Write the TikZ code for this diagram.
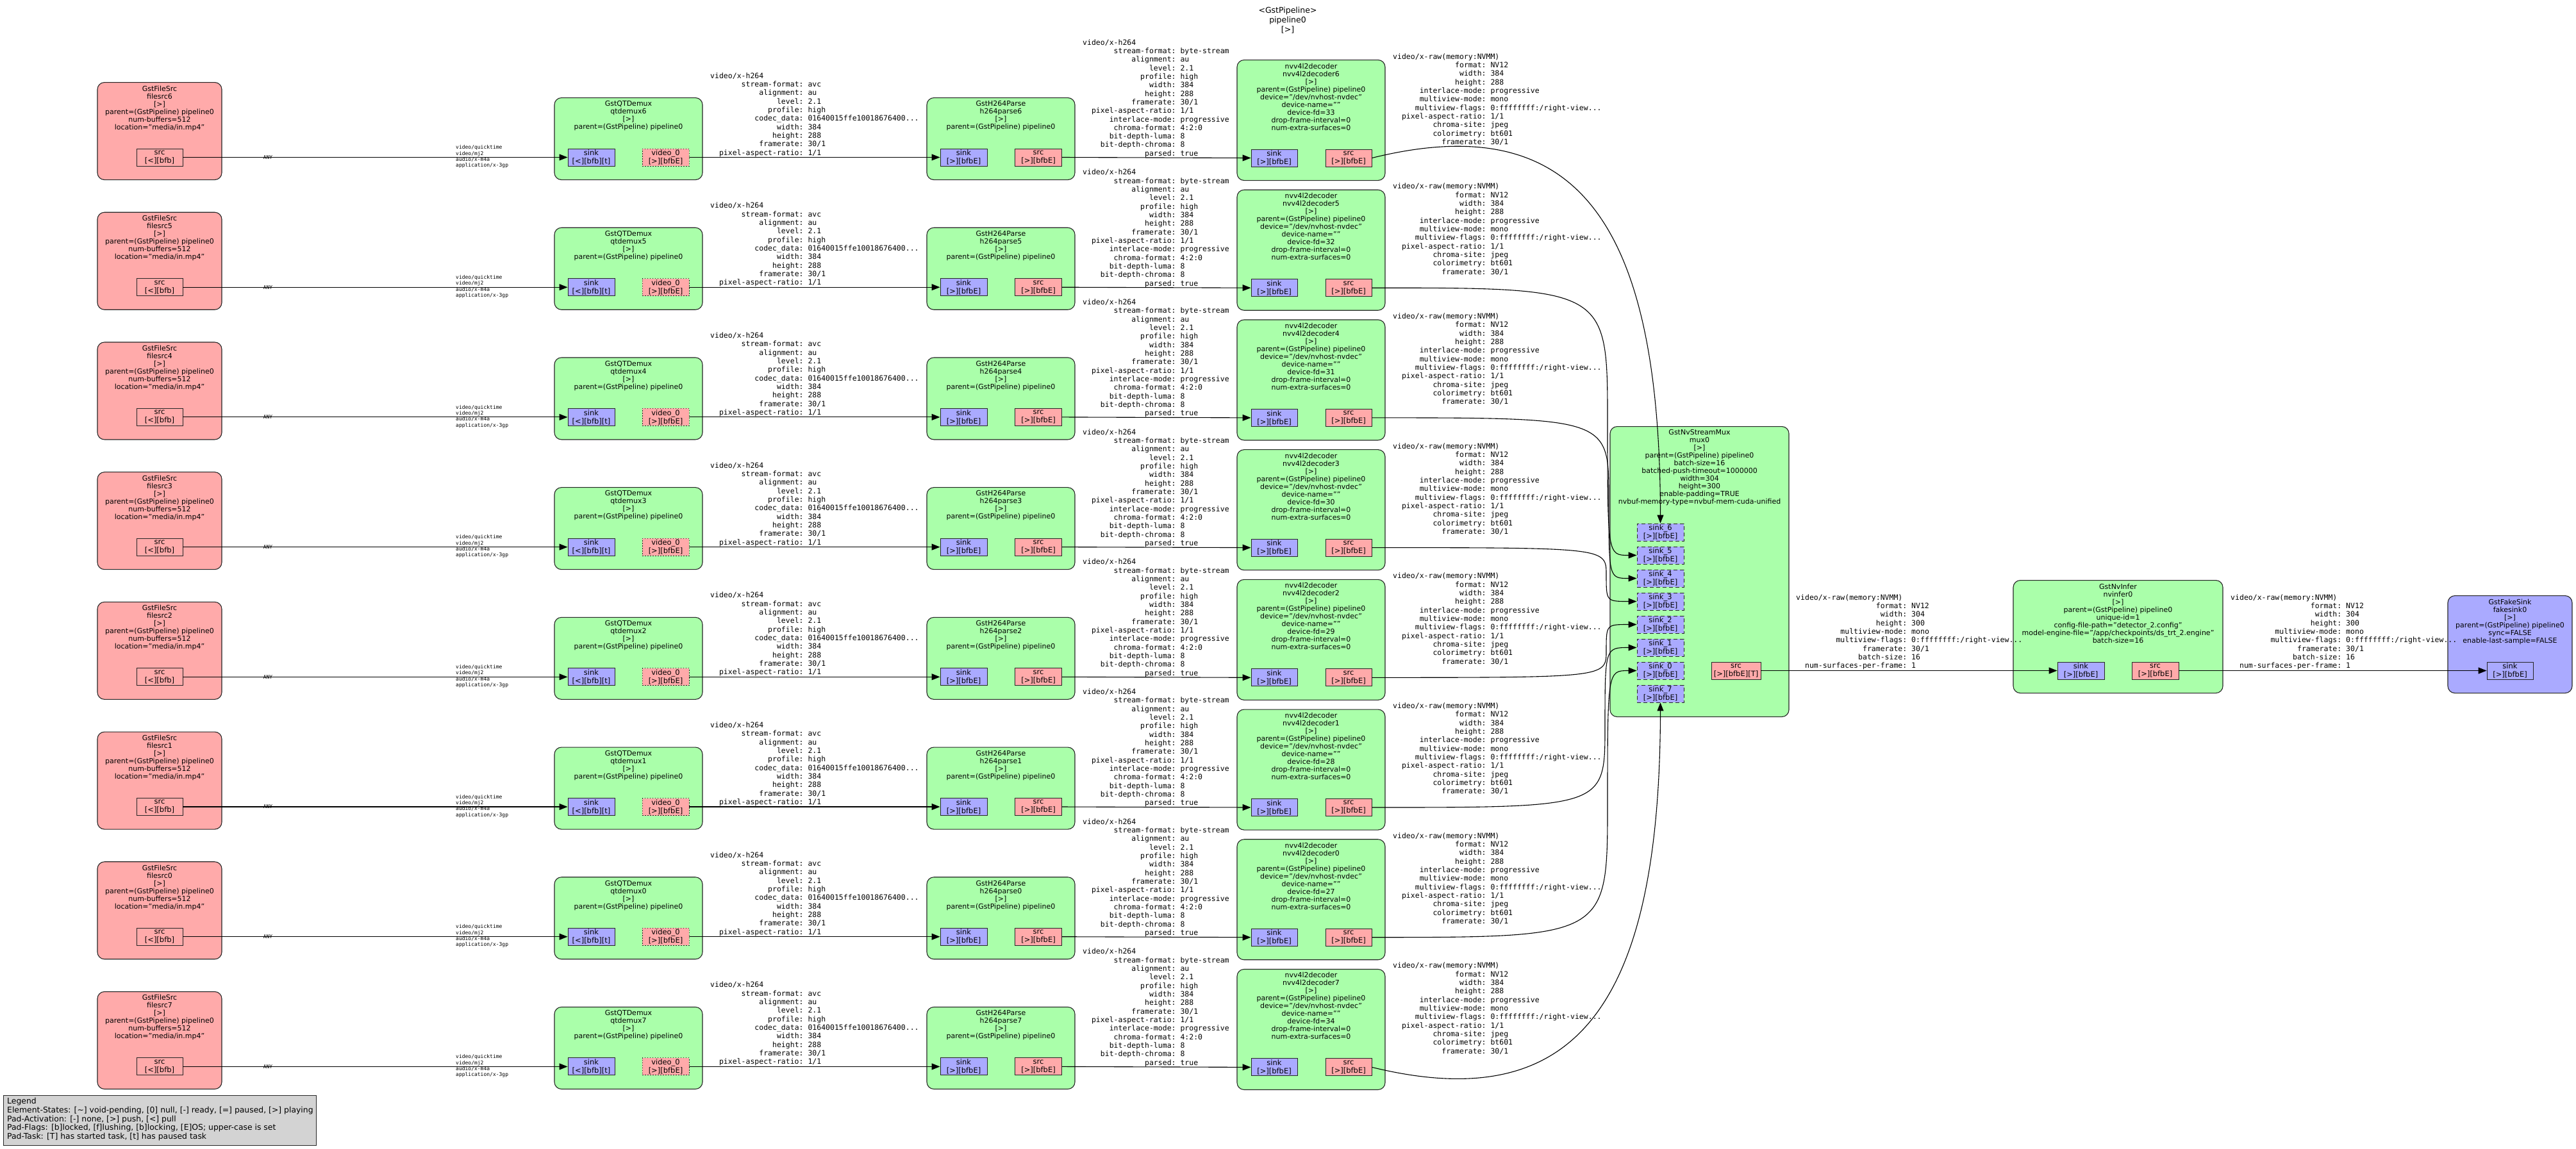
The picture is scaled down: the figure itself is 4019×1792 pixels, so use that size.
\documentclass[tikz,border=0pt]{standalone}
\usepackage{fontspec}
\setmainfont{DejaVu Sans}
\newfontfamily\capsmono{DejaVu Sans Mono}
\usetikzlibrary{arrows.meta}

\definecolor{elemgreen}{HTML}{AAFFAA}
\definecolor{srcred}{HTML}{FFAAAA}
\definecolor{sinkblue}{HTML}{AAAAFF}
\definecolor{legendgray}{HTML}{D3D3D3}

\newcommand\elemfont{\fontsize{11}{12}\selectfont}
\newcommand\padfont{\fontsize{11.5}{13}\selectfont}
\newcommand\capsfont{\capsmono\fontsize{11.5}{13.33}\selectfont}
\newcommand\tinycaps{\capsmono\fontsize{8}{9.3}\selectfont}

% caps table: media type on the first line, then right-aligned field names
\newcommand\capstable[2]{%
  \begin{tabular}{@{\hspace{1.204em}}r@{:\hspace{0.602em}}l@{}}
  \multicolumn{2}{@{}l@{}}{#1}\\
  #2
  \end{tabular}}

\tikzset{
  elembox/.style={draw=black!85, line width=1.1pt, rounded corners=11pt, inner sep=0pt, anchor=north},
  elemtext/.style={inner sep=0pt, align=center, font=\elemfont, anchor=north},
  padbox/.style={draw=black!85, line width=0.9pt, inner sep=0pt, minimum width=73, minimum height=27, align=center, font=\padfont},
  srcpad/.style={padbox, fill=srcred},
  sinkpad/.style={padbox, fill=sinkblue},
  reqpad/.style={sinkpad, dash pattern=on 6pt off 4pt},
  sometimespad/.style={srcpad, dash pattern=on 1.5pt off 2.5pt},
  link/.style={line width=1.1pt, -{Triangle[length=13pt,width=10pt]}},
  capslabel/.style={inner sep=0pt, anchor=north west, font=\capsfont},
  anylabel/.style={inner sep=0pt, font=\tinycaps},
}

\begin{document}
\begin{tikzpicture}[x=1pt, y=-1pt]
\useasboundingbox (0,0) rectangle (4019,1792);

% pipeline title
\node[inner sep=0pt, anchor=north, align=center, font=\fontsize{12.5}{15}\selectfont] (title) at (2009,11) {<GstPipeline>\\pipeline0\\{}[>]};

% one source branch per row: filesrc -> qtdemux -> h264parse -> nvv4l2decoder
\foreach \r/\i/\fd in {0/6/33,1/5/32,2/4/31,3/3/30,4/2/29,5/1/28,6/0/27,7/7/34}{
  \pgfmathsetmacro\dy{\r*202.7}
  % filesrc
  \node[elembox, fill=srcred, minimum width=194, minimum height=152] (fs\i) at (249,128+\dy) {};
  \node[elemtext] (fs\i-t) at (249,133.5+\dy) {GstFileSrc\\filesrc\i\\{}[>]\\parent=(GstPipeline) pipeline0\\num-buffers=512\\location="media/in.mp4"};
  \node[srcpad, minimum width=72] (fs\i-src) at (249,245.5+\dy) {src\\{}[<][bfb]};
  % qtdemux
  \node[elembox, fill=elemgreen, minimum width=231, minimum height=128] (qd\i) at (980.5,152+\dy) {};
  \node[elemtext] (qd\i-t) at (980.5,157.5+\dy) {GstQTDemux\\qtdemux\i\\{}[>]\\parent=(GstPipeline) pipeline0};
  \node[sinkpad] (qd\i-sink) at (922.5,245.5+\dy) {sink\\{}[<][bfb][t]};
  \node[sometimespad] (qd\i-v0) at (1038.5,245.5+\dy) {video\_0\\{}[>][bfbE]};
  % h264parse
  \node[elembox, fill=elemgreen, minimum width=231, minimum height=128] (hp\i) at (1561.5,152+\dy) {};
  \node[elemtext] (hp\i-t) at (1561.5,157.5+\dy) {GstH264Parse\\h264parse\i\\{}[>]\\parent=(GstPipeline) pipeline0};
  \node[sinkpad] (hp\i-sink) at (1503.5,245.5+\dy) {sink\\{}[>][bfbE]};
  \node[srcpad] (hp\i-src) at (1620,245.5+\dy) {src\\{}[>][bfbE]};
  % decoder
  \node[elembox, fill=elemgreen, minimum width=231, minimum height=188] (dc\i) at (2045.5,93+\dy) {};
  \node[elemtext] (dc\i-t) at (2045.5,98.5+\dy) {nvv4l2decoder\\nvv4l2decoder\i\\{}[>]\\parent=(GstPipeline) pipeline0\\device="/dev/nvhost-nvdec"\\device-name=""\\device-fd=\fd\\drop-frame-interval=0\\num-extra-surfaces=0};
  \node[sinkpad, minimum width=72] (dc\i-sink) at (1988,246.5+\dy) {sink\\{}[>][bfbE]};
  \node[srcpad, minimum width=72] (dc\i-src) at (2104,246.5+\dy) {src\\{}[>][bfbE]};
  % links and caps
  \draw[link] (fs\i-src.east) -- node[anylabel, pos=0.221] (any\i) {ANY} (qd\i-sink.west);
  \node[inner sep=0pt, anchor=north west, font=\tinycaps, align=left] (qc\i) at (711,226.5+\dy) {video/quicktime\\video/mj2\\audio/x-m4a\\application/x-3gp};
  \draw[link] (qd\i-v0.east) -- (hp\i-sink.west);
  \node[capslabel] (ca\i) at (1108,112.5+\dy) {\capstable{video/x-h264}{stream-format & avc\\ alignment & au\\ level & 2.1\\ profile & high\\ codec\_data & 01640015ffe10018676400...\\ width & 384\\ height & 288\\ framerate & 30/1\\ pixel-aspect-ratio & 1/1}};
  \draw[link] (hp\i-src.east) -- (dc\i-sink.west);
  \node[capslabel] (cb\i) at (1689,60.5+\dy) {\capstable{video/x-h264}{stream-format & byte-stream\\ alignment & au\\ level & 2.1\\ profile & high\\ width & 384\\ height & 288\\ framerate & 30/1\\ pixel-aspect-ratio & 1/1\\ interlace-mode & progressive\\ chroma-format & 4:2:0\\ bit-depth-luma & 8\\ bit-depth-chroma & 8\\ parsed & true}};
  \node[capslabel] (cc\i) at (2173,82.5+\dy) {\capstable{video/x-raw(memory:NVMM)}{format & NV12\\ width & 384\\ height & 288\\ interlace-mode & progressive\\ multiview-mode & mono\\ multiview-flags & 0:ffffffff:/right-view...\\ pixel-aspect-ratio & 1/1\\ chroma-site & jpeg\\ colorimetry & bt601\\ framerate & 30/1}};
}

% stream muxer
\node[elembox, fill=elemgreen, minimum width=279, minimum height=453] (mux) at (2651.5,665) {};
\node[elemtext] (mux-t) at (2651.5,670.5) {GstNvStreamMux\\mux0\\{}[>]\\parent=(GstPipeline) pipeline0\\batch-size=16\\batched-push-timeout=1000000\\width=304\\height=300\\enable-padding=TRUE\\nvbuf-memory-type=nvbuf-mem-cuda-unified};
\foreach \k/\s in {0/6,1/5,2/4,3/3,4/2,5/1,6/0,7/7}{
  \node[reqpad] (mx\s) at (2590.5,830.5+36*\k) {sink\_\s\\{}[>][bfbE]};
}
\node[srcpad, minimum width=77] (mux-src) at (2708.5,1046.5) {src\\{}[>][bfbE][T]};

% decoders into the muxer request pads
\draw[link] (dc6-src.east) .. controls (2450,170) and (2590,330) .. (mx6.north);
\draw[link] (dc5-src.east) .. controls (2508,449.2) .. (2508,657.9) .. controls (2508,866.5) .. (mx5.west);
\draw[link] (dc4-src.east) .. controls (2510,651.9) .. (2510,777.2) .. controls (2510,902.5) .. (mx4.west);
\draw[link] (dc3-src.east) .. controls (2506,854.6) .. (2506,896.6) .. controls (2506,938.5) .. (mx3.west);
\draw[link] (dc2-src.east) .. controls (2506,1057.3) .. (2506,1015.9) .. controls (2506,974.5) .. (mx2.west);
\draw[link] (dc1-src.east) .. controls (2504,1260) .. (2504,1135.3) .. controls (2504,1010.5) .. (mx1.west);
\draw[link] (dc0-src.east) .. controls (2508,1462.7) .. (2508,1254.6) .. controls (2508,1046.5) .. (mx0.west);
\draw[link] (dc7-src.east) .. controls (2450,1741) and (2590,1583) .. (mx7.south);

% inference element
\node[elembox, fill=elemgreen, minimum width=327, minimum height=176] (inf) at (3304.5,905) {};
\node[elemtext] (inf-t) at (3304.5,910.5) {GstNvInfer\\nvinfer0\\{}[>]\\parent=(GstPipeline) pipeline0\\unique-id=1\\config-file-path="detector\_2.config"\\model-engine-file="/app/checkpoints/ds\_trt\_2.engine"\\batch-size=16};
\node[sinkpad] (inf-sink) at (3246.5,1046.5) {sink\\{}[>][bfbE]};
\node[srcpad] (inf-src) at (3362.5,1046.5) {src\\{}[>][bfbE]};

% sink
\node[elembox, fill=sinkblue, minimum width=194, minimum height=152] (fk) at (3916,929) {};
\node[elemtext] (fk-t) at (3916,934.5) {GstFakeSink\\fakesink0\\{}[>]\\parent=(GstPipeline) pipeline0\\sync=FALSE\\enable-last-sample=FALSE};
\node[sinkpad, minimum width=72] (fk-sink) at (3916,1046.5) {sink\\{}[>][bfbE]};

\draw[link] (mux-src.east) -- (inf-sink.west);
\node[capslabel] (mcaps) at (2802,926.5) {\capstable{video/x-raw(memory:NVMM)}{format & NV12\\ width & 304\\ height & 300\\ multiview-mode & mono\\ multiview-flags & 0:ffffffff:/right-view...\\ framerate & 30/1\\ batch-size & 16\\ num-surfaces-per-frame & 1}};
\draw[link] (inf-src.east) -- (fk-sink.west);
\node[capslabel] (icaps) at (3480,926.5) {\capstable{video/x-raw(memory:NVMM)}{format & NV12\\ width & 304\\ height & 300\\ multiview-mode & mono\\ multiview-flags & 0:ffffffff:/right-view...\\ framerate & 30/1\\ batch-size & 16\\ num-surfaces-per-frame & 1}};

% legend
\node[draw=black!85, line width=1pt, fill=legendgray, anchor=north west, minimum width=488, minimum height=78, inner sep=0pt] (legend) at (5,1709) {};
\node[anchor=north west, inner sep=0pt, align=left, font=\fontsize{12.4}{13.75}\selectfont] (legend-t) at (11,1713) {Legend\\Element-States: [\textasciitilde] void-pending, [0] null, [-] ready, [=] paused, [>] playing\\Pad-Activation: [-] none, [>] push, [<] pull\\Pad-Flags: [b]locked, [f]lushing, [b]locking, [E]OS; upper-case is set\\Pad-Task: [T] has started task, [t] has paused task};
\end{tikzpicture}
\end{document}
